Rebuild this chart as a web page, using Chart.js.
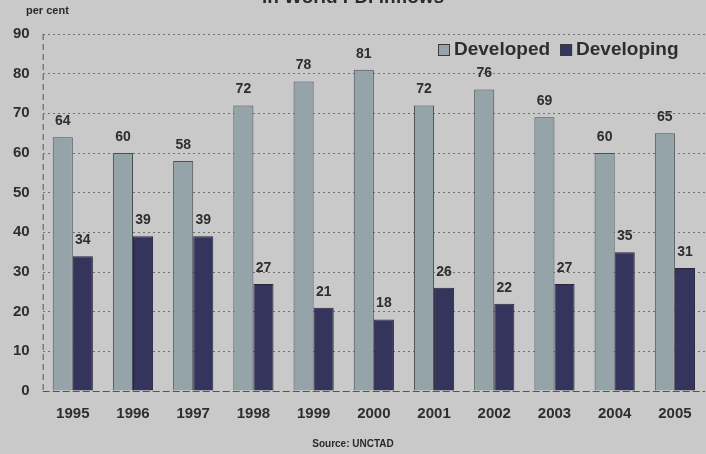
<!DOCTYPE html>
<html>
<head>
<meta charset="utf-8">
<script src="https://cdn.jsdelivr.net/npm/chart.js@4.4.0/dist/chart.umd.min.js"></script>
<style>
  html, body { margin: 0; padding: 0; background: #c9c9c9; }
  #wrap { position: relative; width: 706px; height: 454px; overflow: hidden; background: #c9c9c9; }
  #title { position: absolute; top: -14px; left: 0; width: 706px; text-align: center; font: bold 19px "Liberation Sans", Arial, sans-serif; color: #2a2a2a; }
  #unit { position: absolute; top: 4px; left: 26px; font: bold 11px "Liberation Sans", Arial, sans-serif; color: #2a2a2a; }
  #source { position: absolute; top: 438px; left: 0; width: 706px; text-align: center; font: bold 10px "Liberation Sans", Arial, sans-serif; color: #2a2a2a; }
</style>
</head>
<body>
<div id="wrap">
  <div id="title">in World FDI inflows</div>
  <div id="unit">per cent</div>
  <canvas id="fdiChart" width="706" height="454"></canvas>
  <div id="source">Source: UNCTAD</div>
</div>
<script>
const years = ["1995", "1996", "1997", "1998", "1999", "2000", "2001", "2002", "2003", "2004", "2005"];
const developed = [64, 60, 58, 72, 78, 81, 72, 76, 69, 60, 65];
const developing = [34, 39, 39, 27, 21, 18, 26, 22, 27, 35, 31];
const yTicks = [0, 10, 20, 30, 40, 50, 60, 70, 80, 90];

const FONT = "'Liberation Sans', Arial, sans-serif";

// labels on top of each bar
const valueLabels = {
  id: "valueLabels",
  afterDatasetsDraw(chart) {
    const ctx = chart.ctx;
    ctx.save();
    ctx.font = "bold 14px " + FONT;
    ctx.fillStyle = "#2e2e2e";
    ctx.textAlign = "center";
    ctx.textBaseline = "bottom";
    chart.data.datasets.forEach((ds, i) => {
      const meta = chart.getDatasetMeta(i);
      meta.data.forEach((bar, j) => {
        ctx.fillText(ds.data[j], bar.x, bar.y - 9);
      });
    });
    ctx.restore();
  }
};

// dashed axis lines, drawn before the bars
const dashedAxes = {
  id: "dashedAxes",
  beforeDatasetsDraw(chart) {
    const { ctx, chartArea: a } = chart;
    ctx.save();
    ctx.strokeStyle = "#555";
    ctx.lineWidth = 1;
    ctx.setLineDash([6, 4]);
    ctx.beginPath();
    ctx.moveTo(a.left + 0.5, a.top);
    ctx.lineTo(a.left + 0.5, a.bottom);
    ctx.moveTo(a.left, a.bottom + 0.5);
    ctx.lineTo(a.right, a.bottom + 0.5);
    ctx.stroke();
    ctx.restore();
  }
};

// legend in the top right corner of the plot
const cornerLegend = {
  id: "cornerLegend",
  afterDraw(chart) {
    const ctx = chart.ctx;
    ctx.save();
    ctx.font = "bold 19px " + FONT;
    ctx.textBaseline = "middle";
    ctx.textAlign = "left";
    let x = 438;
    const y = 50;
    chart.data.datasets.forEach((ds) => {
      ctx.fillStyle = ds.backgroundColor;
      ctx.fillRect(x, y - 6, 12, 12);
      ctx.strokeStyle = "#3a3a3a";
      ctx.lineWidth = 1;
      ctx.strokeRect(x + 0.5, y - 5.5, 11, 11);
      ctx.fillStyle = "#2e2e2e";
      ctx.fillText(ds.label, x + 16, y);
      x += 16 + ctx.measureText(ds.label).width + 10;
    });
    ctx.restore();
  }
};

new Chart(document.getElementById("fdiChart"), {
  type: "bar",
  data: {
    labels: years,
    datasets: [
      {
        label: "Developed",
        data: developed,
        backgroundColor: "#95a4a9",
        borderColor: "#4a4f55",
        borderWidth: 1,
        categoryPercentage: 0.667,
        barPercentage: 1.0
      },
      {
        label: "Developing",
        data: developing,
        backgroundColor: "#34345c",
        borderColor: "#26263e",
        borderWidth: 1,
        categoryPercentage: 0.667,
        barPercentage: 1.0
      }
    ]
  },
  options: {
    responsive: false,
    animation: false,
    layout: { padding: { top: 34, right: 1, bottom: 25, left: 0 } },
    plugins: {
      legend: { display: false },
      tooltip: { enabled: false }
    },
    scales: {
      x: {
        grid: { display: false },
        border: { display: false },
        ticks: {
          font: { family: FONT, size: 15, weight: "bold" },
          color: "#2e2e2e",
          padding: 6
        }
      },
      y: {
        min: 0,
        max: 90,
        afterBuildTicks: (axis) => { axis.ticks = yTicks.map(v => ({ value: v })); },
        grid: { color: "#707070", lineWidth: 1, drawTicks: false },
        border: { display: false, dash: [2, 3] },
        ticks: {
          font: { family: FONT, size: 15, weight: "bold" },
          color: "#2e2e2e",
          padding: 13
        }
      }
    }
  },
  plugins: [dashedAxes, valueLabels, cornerLegend]
});
</script>
</body>
</html>
